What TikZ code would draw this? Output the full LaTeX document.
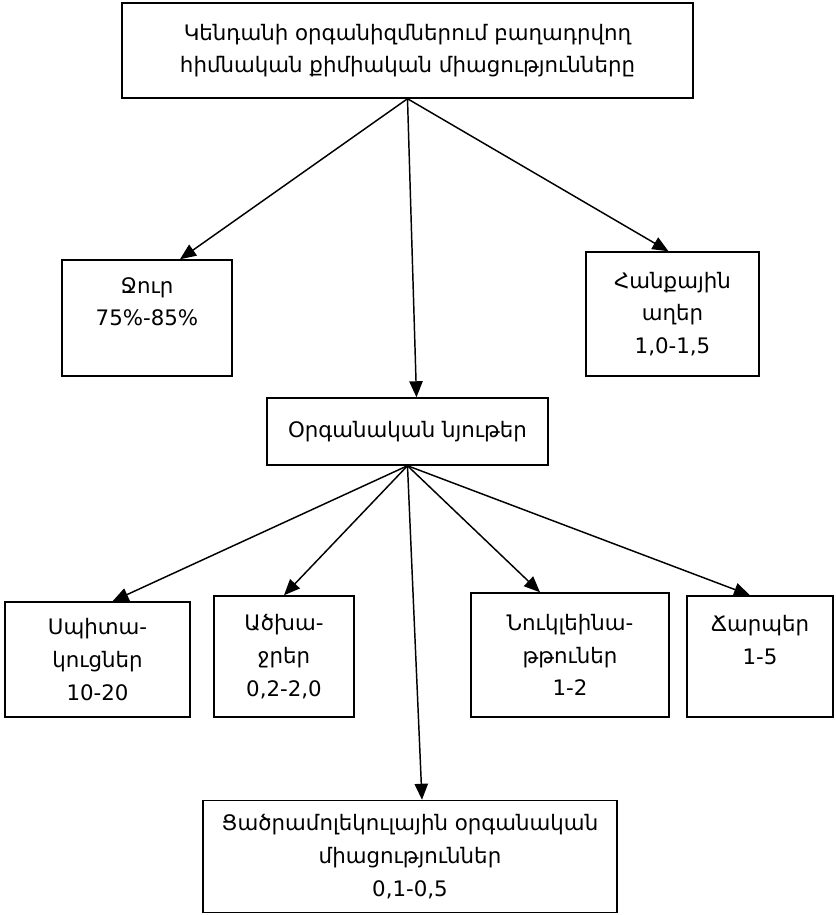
\documentclass[tikz,border=0pt]{standalone}
\usepackage{fontspec}
\setmainfont{DejaVu Sans}
\usetikzlibrary{arrows.meta,calc}

\begin{document}
\begin{tikzpicture}[
  x=0.75pt, y=-0.75pt,
  font=\fontsize{16}{24.5}\selectfont,
  >={Triangle[length=12pt, width=10pt]},
  box/.style={draw, line width=1.1pt, align=center, inner sep=0pt},
  arrow/.style={->, line width=1.1pt}
]
\useasboundingbox (0,0) rectangle (836,915);

% верхний уровень
\node[box, minimum width=571*0.75pt, minimum height=95*0.75pt] (chem) at (407.5,50.5)
  {Կենդանի օրգանիզմներում բաղադրվող\\հիմնական քիմիական միացությունները};
\node[box, minimum width=170*0.75pt, minimum height=116*0.75pt] (water) at (147,318)
  {Ջուր\\75\%-85\%\\ ~};
\node[box, minimum width=173*0.75pt, minimum height=124*0.75pt] (salt) at (672.5,314)
  {Հանքային\\աղեր\\1,0-1,5};
\node[box, minimum width=281*0.75pt, minimum height=67*0.75pt] (org) at (407.5,431.5)
  {Օրգանական նյութեր};

% органические вещества
\node[box, minimum width=185*0.75pt, minimum height=115*0.75pt] (prot) at (97.5,659.5)
  {Սպիտա-\\կուցներ\\10-20};
\node[box, minimum width=140*0.75pt, minimum height=121*0.75pt] (carb) at (284,656.5)
  {Ածխա-\\ջրեր\\0,2-2,0};
\node[box, minimum width=198*0.75pt, minimum height=124*0.75pt] (nucl) at (570,655)
  {Նուկլեինա-\\թթուներ\\1-2};
\node[box, minimum width=146*0.75pt, minimum height=121*0.75pt] (fat) at (760,656.5)
  {Ճարպեր\\1-5\\ ~};
\node[box, minimum width=414*0.75pt, minimum height=112*0.75pt] (small) at (410,856.5)
  {Ցածրամոլեկուլային օրգանական\\միացություններ\\0,1-0,5};

\coordinate (root) at (chem.south -| org);

\draw[arrow] (root) -- ($(water.north)+(33,0)$);
\draw[arrow] (root) -- ($(org.north)+(9,0)$);
\draw[arrow] (root) -- ($(salt.north)+(-4,0)$);

\draw[arrow] (org.south) -- ($(prot.north)+(15,0)$);
\draw[arrow] (org.south) -- (carb.north);
\draw[arrow] (org.south) -- ($(small.north)+(12,0)$);
\draw[arrow] (org.south) -- ($(nucl.north)+(-30,0)$);
\draw[arrow] (org.south) -- ($(fat.north)+(-10,0)$);
\end{tikzpicture}
\end{document}
